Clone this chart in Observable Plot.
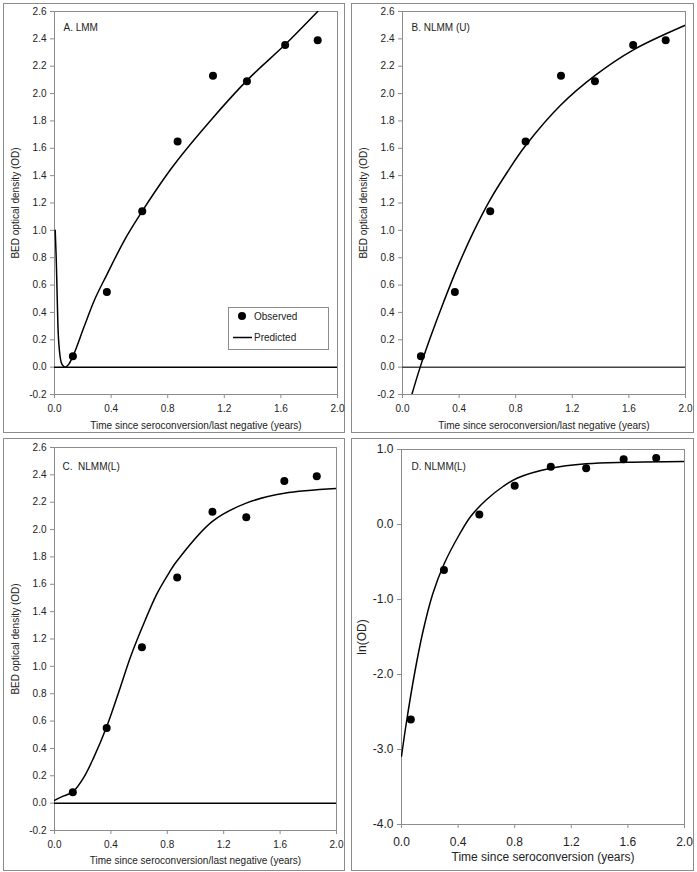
<!DOCTYPE html>
<html><head><meta charset="utf-8">
<script src="https://cdn.jsdelivr.net/npm/d3@7"></script>
<script src="https://cdn.jsdelivr.net/npm/@observablehq/plot@0.6"></script>
<style>
body{margin:0;background:#fff;font-family:"Liberation Sans",Arial,sans-serif;}
#wrap{position:relative;width:697px;height:872px;background:#fff;}
.box{position:absolute;border:1px solid #8c8c8c;box-sizing:border-box;}
.plot{position:absolute;}
#legend{position:absolute;left:228px;top:307px;width:101px;height:43px;border:1px solid #8c8c8c;box-sizing:border-box;background:#fff;font-size:10px;color:#222;}
</style></head><body><div id="wrap"></div>
<script>
// Observed data (panels A-C): time (years) and BED optical density
const obsTime = [0.13, 0.37, 0.62, 0.87, 1.12, 1.36, 1.63, 1.86];
const obsOD   = [0.08, 0.55, 1.14, 1.65, 2.13, 2.09, 2.355, 2.39];
// Observed data (panel D): time since seroconversion and ln(OD)
const obsTimeD = [0.066, 0.30, 0.55, 0.80, 1.055, 1.305, 1.57, 1.80];
const obsLnOD  = [-2.60, -0.605, 0.135, 0.516, 0.771, 0.749, 0.87, 0.888];

// Predicted curves
const predATime = [0.005, 0.012, 0.017, 0.024, 0.035, 0.053, 0.076, 0.10, 0.13, 0.207, 0.278, 0.372, 0.49, 0.62, 0.82, 1.117, 1.364, 1.632, 1.86];
const predAOD   = [1.0, 0.8, 0.6, 0.31, 0.12, 0.02, 0.0, 0.02, 0.08, 0.29, 0.48, 0.68, 0.92, 1.14, 1.445, 1.82, 2.10, 2.36, 2.6];
const predBTime = [0.066, 0.125, 0.196, 0.292, 0.387, 0.504, 0.62, 0.74, 0.87, 1.117, 1.364, 1.632, 2.0];
const predBOD   = [-0.2, 0.0, 0.214, 0.48, 0.726, 0.994, 1.225, 1.425, 1.62, 1.915, 2.135, 2.32, 2.50];
const predCTime = [0, 0.066, 0.13, 0.207, 0.278, 0.372, 0.466, 0.537, 0.62, 0.726, 0.816, 0.868, 1.12, 1.364, 1.63, 2.0];
const predCOD   = [0.02, 0.053, 0.082, 0.187, 0.333, 0.564, 0.844, 1.063, 1.28, 1.53, 1.69, 1.77, 2.06, 2.195, 2.265, 2.30];
const predDTime = [0, 0.033, 0.092, 0.15, 0.22, 0.30, 0.41, 0.49, 0.60, 0.72, 0.82, 1.055, 1.305, 1.6, 2.0];
const predDLn   = [-3.09, -2.66, -1.99, -1.44, -0.93, -0.53, -0.13, 0.11, 0.33, 0.51, 0.62, 0.75, 0.81, 0.83, 0.84];

// Axis ticks and texts
const xTicks = [0, 0.4, 0.8, 1.2, 1.6, 2.0];
const yTicksOD = [-0.2, 0, 0.2, 0.4, 0.6, 0.8, 1.0, 1.2, 1.4, 1.6, 1.8, 2.0, 2.2, 2.4, 2.6];
const yTicksLn = [-4, -3, -2, -1, 0, 1];
const panelTags = ["A. LMM", "B. NLMM (U)", "C.\u00a0 NLMM(L)", "D. NLMM(L)"];
const xLabels = ["Time since seroconversion/last negative (years)", "Time since seroconversion (years)"];
const yLabels = ["BED optical density (OD)", "ln(OD)"];
const legendLabels = ["Observed", "Predicted"];

const wrap = document.getElementById("wrap");
const GRAY = "#8c8c8c";
const fmt = d => d.toFixed(1);

function panel(o) {
  const box = document.createElement("div");
  box.className = "box";
  Object.assign(box.style, {left: o.left + "px", top: o.top + "px", width: o.w + "px", height: o.h + "px"});
  wrap.appendChild(box);
  const obs = o.obsX.map((t, i) => ({t, v: o.obsY[i]}));
  const pred = o.predX.map((t, i) => ({t, v: o.predY[i]}));
  const fs = o.fs;
  const chart = Plot.plot({
    width: o.w, height: o.h,
    marginTop: o.mt, marginRight: o.mr, marginBottom: o.mb, marginLeft: o.ml,
    style: {fontFamily: "'Liberation Sans', Arial, sans-serif", fontSize: fs + "px", color: "#222", background: "transparent", overflow: "visible"},
    x: {domain: [0, 2]},
    y: {domain: o.ydomain},
    marks: [
      Plot.frame({stroke: GRAY}),
      o.zero ? Plot.ruleY([0], {stroke: o.zeroColor, strokeWidth: 1.5}) : null,
      Plot.line(pred, {x: "t", y: "v", stroke: "#000", strokeWidth: 1.5, curve: o.curve, clip: true}),
      Plot.dot(obs, {x: "t", y: "v", r: 4, fill: "#000", stroke: "none"}),
      Plot.axisX({ticks: xTicks, tickFormat: fmt, tickSize: 4, tickPadding: o.xpad, stroke: GRAY, fill: "#222", label: null, fontSize: fs}),
      Plot.axisY({ticks: o.yticks, tickFormat: fmt, tickSize: 4, tickPadding: 4, stroke: GRAY, fill: "#222", label: null, fontSize: fs}),
      Plot.text([o.xlabel], {text: d => d, frameAnchor: "bottom", dy: o.xdy, textAnchor: "middle", lineAnchor: "middle", fontSize: fs, fill: "#222"}),
      Plot.text([o.ylabel], {text: d => d, frameAnchor: "left", dx: -39, rotate: -90, textAnchor: "middle", lineAnchor: "middle", fontSize: fs, fill: "#222"}),
      Plot.text([o.tag], {text: d => d, frameAnchor: "top-left", dx: o.tagDx, dy: o.tagDy, textAnchor: "start", lineAnchor: "middle", fontSize: 10, fill: "#222"})
    ]
  });
  chart.classList.add("plot");
  chart.style.left = o.left + "px";
  chart.style.top = o.top + "px";
  wrap.appendChild(chart);
}

panel({left: 3, top: 3, w: 342, h: 430, ml: 51, mr: 8, mt: 8, mb: 39, ydomain: [-0.2, 2.6], yticks: yTicksOD,
  xlabel: xLabels[0], ylabel: yLabels[0], tag: panelTags[0], obsX: obsTime, obsY: obsOD, predX: predATime, predY: predAOD,
  zero: true, zeroColor: "#000", fs: 10, xpad: 6, xdy: 31, tagDx: 9, tagDy: 16, curve: "monotone-x"});
panel({left: 351, top: 3, w: 343, h: 430, ml: 51, mr: 9, mt: 8, mb: 39, ydomain: [-0.2, 2.6], yticks: yTicksOD,
  xlabel: xLabels[0], ylabel: yLabels[0], tag: panelTags[1], obsX: obsTime, obsY: obsOD, predX: predBTime, predY: predBOD,
  zero: true, zeroColor: "#444", fs: 10, xpad: 6, xdy: 31, tagDx: 9, tagDy: 16, curve: "catmull-rom"});
panel({left: 3, top: 438, w: 342, h: 433, ml: 51, mr: 9, mt: 9, mb: 41, ydomain: [-0.2, 2.6], yticks: yTicksOD,
  xlabel: xLabels[0], ylabel: yLabels[0], tag: panelTags[2], obsX: obsTime, obsY: obsOD, predX: predCTime, predY: predCOD,
  zero: true, zeroColor: "#000", fs: 10, xpad: 6, xdy: 30, tagDx: 8, tagDy: 19, curve: "catmull-rom"});
panel({left: 351, top: 438, w: 343, h: 433, ml: 50, mr: 10, mt: 11, mb: 47, ydomain: [-4, 1], yticks: yTicksLn,
  xlabel: xLabels[1], ylabel: yLabels[1], tag: panelTags[3], obsX: obsTimeD, obsY: obsLnOD, predX: predDTime, predY: predDLn,
  zero: false, fs: 12, xpad: 9, xdy: 33, tagDx: 10, tagDy: 17, curve: "catmull-rom"});

// Legend for panel A
const leg = document.createElement("div");
leg.id = "legend";
leg.innerHTML = `<svg width="99" height="41" style="position:absolute;left:0;top:0;font-family:'Liberation Sans',Arial,sans-serif">
<circle cx="13" cy="8" r="4" fill="#000"></circle>
<line x1="4" x2="23" y1="29.5" y2="29.5" stroke="#000" stroke-width="1.5"></line>
<text x="25" y="8" dy="0.35em" font-size="10" fill="#222">${legendLabels[0]}</text>
<text x="25" y="29.5" dy="0.35em" font-size="10" fill="#222">${legendLabels[1]}</text>
</svg>`;
wrap.appendChild(leg);
</script>
</body></html>
